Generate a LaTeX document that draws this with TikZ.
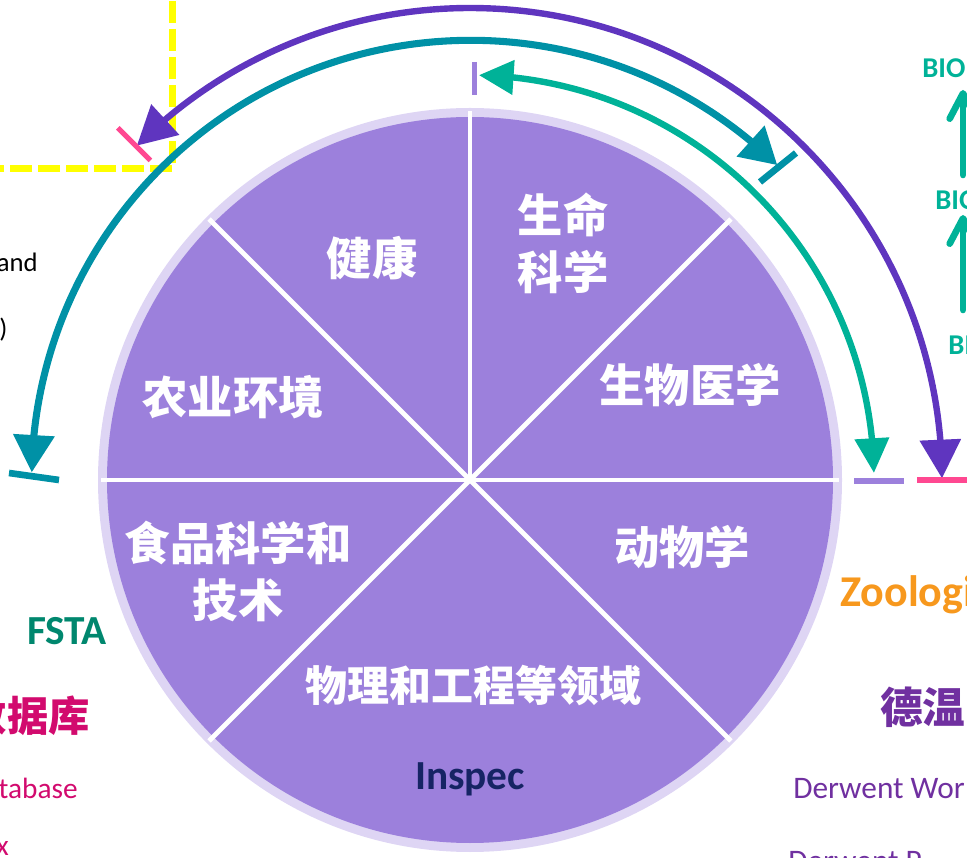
\documentclass[tikz,border=0pt]{standalone}
\usepackage{fontspec}
\setmainfont{Carlito}
\newfontfamily\cjk{Noto Sans CJK SC}
\usetikzlibrary{arrows.meta,bending,calc}
\definecolor{piecol}{RGB}{156,128,220}
\definecolor{ringcol}{RGB}{222,213,244}
\definecolor{arcpurple}{RGB}{95,53,191}
\definecolor{arcteal}{RGB}{0,145,166}
\definecolor{arcgreen}{RGB}{0,178,152}
\definecolor{tickpink}{RGB}{255,72,145}
\definecolor{fstagreen}{RGB}{0,135,110}
\definecolor{dbmagenta}{RGB}{210,10,110}
\definecolor{zoorange}{RGB}{247,152,29}
\definecolor{dwpurple}{RGB}{112,48,160}
\definecolor{inspecnavy}{RGB}{22,36,100}
\definecolor{dashyellow}{RGB}{255,255,0}
\begin{document}
\begin{tikzpicture}[x=0.75pt,y=0.75pt,
  seclabel/.style={text=white,font=\cjk\bfseries\fontsize{34}{43}\selectfont,align=center,inner sep=0pt},
  divider/.style={draw=white,line width=3.6pt},
  purplearc/.style={draw=arcpurple,line width=4.8pt,{Triangle[length=29pt,width=30pt]}-{Triangle[length=29pt,width=30pt]}},
  tealarc/.style={draw=arcteal,line width=5.3pt,{Triangle[length=27pt,width=30pt]}-{Triangle[length=28pt,width=30pt]}},
  greenarc/.style={draw=arcgreen,line width=4.8pt,{Triangle[length=26pt,width=25pt]}-{Triangle[length=26pt,width=25pt]}},
  pinktick/.style={draw=tickpink,line width=3.8pt},
  lavtick/.style={draw=piecol,line width=3.8pt},
  tealtick/.style={draw=arcteal,line width=5pt},
  uparrow/.style={draw=arcgreen,line width=5pt,line cap=round,-{Straight Barb[length=19pt,width=20pt,round]}},
  latin/.style={inner sep=0pt},
  biotext/.style={latin,text=arcgreen,font=\bfseries\fontsize{21.5}{25}\selectfont},
  dwtext/.style={latin,text=dwpurple,font=\fontsize{23.5}{28}\selectfont},
  dbtext/.style={latin,text=dbmagenta,font=\fontsize{22}{26}\selectfont},
  blacktext/.style={latin,text=black,font=\fontsize{20}{24}\selectfont}]
\useasboundingbox (0,0) rectangle (967,857);
\clip (0,0) rectangle (967,857);

% yellow dashed frame
\coordinate (y1) at (172.5,884);
\coordinate (y2) at (172.5,688.5);
\coordinate (y3) at (-30,688.5);
\draw[dashyellow,line width=5.2pt,dash pattern=on 16.3pt off 4.7pt] (y1) -- (y2) -- (y3);

% pie
\coordinate (C) at (470,377);
\fill[ringcol] (C) circle[radius=372];
\fill[piecol] (C) circle[radius=363];
\foreach \a in {0,45,90,135,180,225,315}
  \draw[divider] (C) -- ($(C)+(\a:369)$);

% sector labels
\node[seclabel] (jk) at (372,599) {健康};
\node[seclabel] (smkx) at (563,613.5) {生命\\科学};
\node[seclabel] (swyx) at (690,472) {生物医学};
\node[seclabel] (nyhj) at (233,460) {农业环境};
\node[seclabel] (spkx) at (238,285.5) {食品科学和\\技术};
\node[seclabel] (dwx) at (682,310) {动物学};
\node[seclabel,font=\cjk\bfseries\fontsize{31.5}{38}\selectfont] (wlgc) at (473,171) {物理和工程等领域};
\node[latin,text=inspecnavy,font=\bfseries\fontsize{31}{36}\selectfont,anchor=base] (inspec) at (470,68) {Inspec};

% purple arc
\coordinate (pR) at ($(C)+(0.2:472)$);
\draw[purplearc] (pR) arc[start angle=0.2,end angle=134.9,radius=472];
\coordinate (pk1a) at ($(C)+(0:447)$);
\coordinate (pk1b) at ($(C)+(0:505)$);
\draw[pinktick] (pk1a) -- (pk1b);
\coordinate (pk2a) at ($(C)+(135:452)$);
\coordinate (pk2b) at ($(C)+(135:498)$);
\draw[pinktick] (pk2a) -- (pk2b);

% teal arc
\coordinate (tR) at ($(C)+(45.7:440)$);
\draw[tealarc] (tR) arc[start angle=45.7,end angle=179.1,radius=439];
\coordinate (tk1a) at (9,384);
\coordinate (tk1b) at (59,377);
\draw[tealtick] (tk1a) -- (tk1b);
\coordinate (tk2a) at (760,675);
\coordinate (tk2b) at (796,704);
\draw[tealtick] (tk2a) -- (tk2b);

% green arc
\coordinate (gR) at ($(C)+(1:404)$);
\draw[greenarc] (gR) arc[start angle=1,end angle=88.6,radius=405];
\coordinate (lk1a) at (474.5,795);
\coordinate (lk1b) at (474.5,762);
\draw[lavtick] (lk1a) -- (lk1b);
\coordinate (lk2a) at (854,376);
\coordinate (lk2b) at (904,376);
\draw[lavtick] (lk2a) -- (lk2b);

% right side BIO texts and arrows
\node[biotext,anchor=base west] (bio1) at (922,779) {BIO};
\node[biotext,anchor=base west] (bio2) at (935,647) {BIO};
\node[biotext,anchor=base west] (bio3) at (948,502) {BI};
\coordinate (u1a) at (963,682);
\coordinate (u1b) at (963,767);
\draw[uparrow] (u1a) -- (u1b);
\coordinate (u2a) at (963,547);
\coordinate (u2b) at (963,642);
\draw[uparrow] (u2a) -- (u2b);

% right bottom texts
\node[latin,text=zoorange,font=\bfseries\fontsize{33}{38}\selectfont,anchor=base west] (zoo) at (840,250) {Zoologi};
\node[inner sep=0pt,text=dwpurple,font=\cjk\bfseries\fontsize{32}{38}\selectfont,anchor=west] (dw) at (880,150) {德温};
\node[dwtext,anchor=base west] (dwpi) at (793,59) {Derwent Wor};
\node[dwtext,anchor=base west] (dwpc) at (788,-14) {Derwent P};

% left texts
\node[blacktext,anchor=base east] (andtxt) at (38,585) {and};
\node[blacktext,anchor=base west] (paren) at (-1,519) {)};
\node[latin,text=fstagreen,font=\bfseries\fontsize{31}{36}\selectfont,anchor=base] (fsta) at (67,212) {FSTA};
\node[inner sep=0pt,text=dbmagenta,font=\cjk\bfseries\fontsize{31}{36}\selectfont,anchor=east] (sjk) at (90,141) {数据库};
\node[dbtext,anchor=base east] (dbase) at (78,59) {database};
\node[dbtext,anchor=base east] (idx) at (9,2) {Index};
\end{tikzpicture}
\end{document}
